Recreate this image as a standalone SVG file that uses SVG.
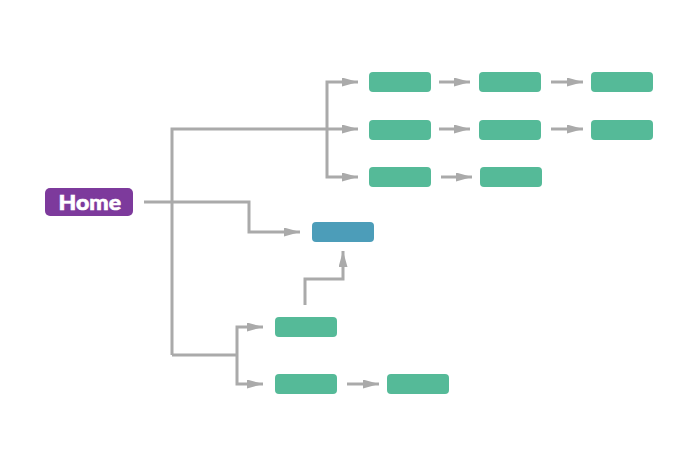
<svg xmlns="http://www.w3.org/2000/svg" width="700" height="467" viewBox="0 0 700 467">
<defs>
<marker id="ah" viewBox="0 0 16 9" refX="16" refY="4.5" markerWidth="16" markerHeight="9" markerUnits="userSpaceOnUse" orient="auto">
<path d="M0,0 L16,4.5 L0,9 Z" fill="#aaaaaa"/>
</marker>
<style>
.g{fill:#55ba98}
.b{fill:#4c9db9}
.p{fill:#7d3a9c}
.c{fill:none;stroke:#aaaaaa;stroke-width:3;marker-end:url(#ah)}
.l{fill:none;stroke:#aaaaaa;stroke-width:3}
.t{font-family:Lato,"Liberation Sans",sans-serif;font-weight:900;font-size:21px;fill:#fff;stroke:#fff;stroke-width:0.6}
</style>
</defs>
<rect width="700" height="467" fill="#fff"/>
<g id="connectors">
<path class="c" d="M144,202 H249 V232 H300"/>
<path class="c" d="M172,355 V129 H358"/>
<path class="c" d="M327,129 V82 H358"/>
<path class="c" d="M327,129 V177 H358"/>
<path class="l" d="M172,355 H237"/>
<path class="c" d="M237,355 V327 H263"/>
<path class="c" d="M237,355 V384 H263"/>
<path class="c" d="M305,305 V279 H343 V251"/>
<path class="c" d="M439,82 H470"/>
<path class="c" d="M551,82 H583"/>
<path class="c" d="M439,129 H470"/>
<path class="c" d="M551,129 H583"/>
<path class="c" d="M441,177 H472"/>
<path class="c" d="M347,384 H379"/>
</g>
<g id="home"><rect class="p" x="45" y="188" width="88" height="28" rx="5"/><text class="t" x="58.5" y="209.5" textLength="62.5" lengthAdjust="spacingAndGlyphs">Home</text></g>
<g id="n1"><rect class="g" x="369" y="72" width="62" height="20" rx="4"/></g>
<g id="n2"><rect class="g" x="479" y="72" width="62" height="20" rx="4"/></g>
<g id="n3"><rect class="g" x="591" y="72" width="62" height="20" rx="4"/></g>
<g id="n4"><rect class="g" x="369" y="120" width="62" height="20" rx="4"/></g>
<g id="n5"><rect class="g" x="479" y="120" width="62" height="20" rx="4"/></g>
<g id="n6"><rect class="g" x="591" y="120" width="62" height="20" rx="4"/></g>
<g id="n7"><rect class="g" x="369" y="167" width="62" height="20" rx="4"/></g>
<g id="n8"><rect class="g" x="480" y="167" width="62" height="20" rx="4"/></g>
<g id="blue"><rect class="b" x="312" y="222" width="62" height="20" rx="4"/></g>
<g id="n9"><rect class="g" x="275" y="317" width="62" height="20" rx="4"/></g>
<g id="n10"><rect class="g" x="275" y="374" width="62" height="20" rx="4"/></g>
<g id="n11"><rect class="g" x="387" y="374" width="62" height="20" rx="4"/></g>
</svg>
